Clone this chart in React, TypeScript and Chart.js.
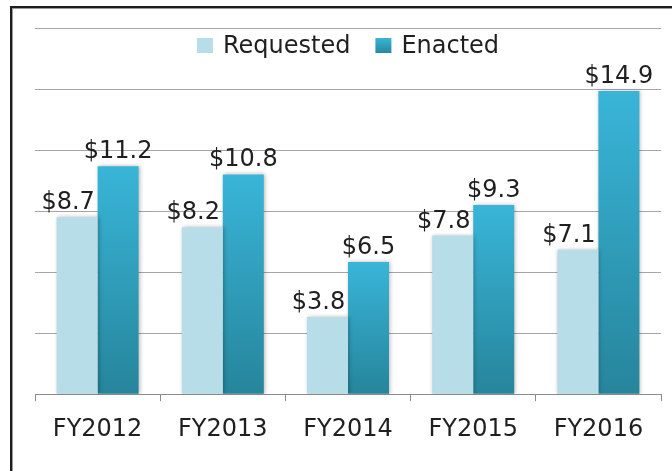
import React, { useEffect, useRef } from "react";
import { Chart, registerables } from "chart.js";

Chart.register(...registerables);

const categories = ["FY2012", "FY2013", "FY2014", "FY2015", "FY2016"];
const requested = [8.7, 8.2, 3.8, 7.8, 7.1];
const enacted = [11.2, 10.8, 6.5, 9.3, 14.9];
const seriesNames = ["Requested", "Enacted"];
const yMin = 0;
const yMax = 18;
const yStep = 3;

const FONT = "'DejaVu Sans', sans-serif";
const TEXT = "#1f1f1f";
const REQ_COLOR = "#b7dde8";
const ENA_TOP = "#39b5d8";
const ENA_BOTTOM = "#26859b";

export default function App() {
  const ref = useRef<HTMLCanvasElement | null>(null);

  useEffect(() => {
    if (!ref.current) return;

    const enactedFill = (ctx: any) => {
      const chart = ctx.chart;
      const y = chart.scales && chart.scales.y;
      if (!y || ctx.type !== "data") return ENA_TOP;
      const top = y.getPixelForValue(ctx.raw);
      const bottom = y.getPixelForValue(0);
      if (!isFinite(top) || !isFinite(bottom) || top === bottom) return ENA_TOP;
      const g = chart.ctx.createLinearGradient(0, top, 0, bottom);
      g.addColorStop(0, ENA_TOP);
      g.addColorStop(1, ENA_BOTTOM);
      return g;
    };

    const shadowPlugin = {
      id: "barShadow",
      beforeDatasetsDraw(chart: any) {
        const c = chart.ctx;
        c.save();
        c.shadowColor = "rgba(0,0,0,0.28)";
        c.shadowBlur = 4;
        c.shadowOffsetX = 1;
        c.shadowOffsetY = 0;
      },
      afterDatasetsDraw(chart: any) {
        chart.ctx.restore();
      },
    };

    const labelsPlugin = {
      id: "valueLabels",
      afterDraw(chart: any) {
        const c = chart.ctx;
        c.save();
        c.font = `24px ${FONT}`;
        c.fillStyle = TEXT;
        c.textAlign = "center";
        c.textBaseline = "alphabetic";
        chart.data.datasets.forEach((ds: any, di: number) => {
          const meta = chart.getDatasetMeta(di);
          meta.data.forEach((bar: any, i: number) => {
            const v = ds.data[i];
            const dx = di === 0 ? -9 : 0;
            c.fillText(`$${v.toFixed(1)}`, bar.x + dx, bar.y - 8);
          });
        });
        c.restore();
      },
    };

    const legendPlugin = {
      id: "innerLegend",
      afterDraw(chart: any) {
        const c = chart.ctx;
        const area = chart.chartArea;
        c.save();
        c.font = `24px ${FONT}`;
        const box = 16;
        const gap = 10;
        const itemGap = 25;
        const colors = [REQ_COLOR, ENA_TOP];
        const widths = seriesNames.map((n) => c.measureText(n).width);
        const total =
          widths.reduce((a, b) => a + b, 0) + seriesNames.length * (box + gap) + itemGap * (seriesNames.length - 1);
        let x = (area.left + area.right) / 2 - total / 2;
        const boxTop = area.top + 10;
        const baseline = area.top + 25;
        seriesNames.forEach((n, i) => {
          if (i === 1) {
            const g = c.createLinearGradient(0, boxTop, 0, boxTop + box);
            g.addColorStop(0, ENA_TOP);
            g.addColorStop(1, ENA_BOTTOM);
            c.fillStyle = g;
          } else {
            c.fillStyle = colors[i];
          }
          c.fillRect(x, boxTop, box, 15);
          x += box + gap;
          c.fillStyle = TEXT;
          c.textAlign = "left";
          c.textBaseline = "alphabetic";
          c.fillText(n, x, baseline);
          x += widths[i] + itemGap;
        });
        c.restore();
      },
    };

    const chart = new Chart(ref.current, {
      type: "bar",
      data: {
        labels: categories,
        datasets: [
          {
            label: seriesNames[0],
            data: requested,
            backgroundColor: REQ_COLOR,
            borderWidth: 0,
            categoryPercentage: 0.655,
            barPercentage: 1,
          },
          {
            label: seriesNames[1],
            data: enacted,
            backgroundColor: enactedFill,
            borderWidth: 0,
            categoryPercentage: 0.655,
            barPercentage: 1,
          },
        ],
      },
      options: {
        responsive: false,
        animation: false,
        devicePixelRatio: 1,
        layout: { padding: { left: 35, right: 11, top: 28, bottom: 13 } },
        plugins: {
          legend: { display: false },
          tooltip: { enabled: false },
          title: { display: false },
        },
        scales: {
          x: {
            grid: {
              display: true,
              drawOnChartArea: false,
              drawTicks: true,
              tickLength: 7,
              offset: true,
              color: "#8c8c8c",
              lineWidth: 1,
            },
            border: { display: true, color: "#8c8c8c", width: 1 },
            ticks: {
              color: TEXT,
              font: { family: FONT, size: 24 },
              padding: 14,
              maxRotation: 0,
            },
          },
          y: {
            min: yMin,
            max: yMax,
            ticks: { display: false, stepSize: yStep },
            grid: { color: "#a6a6a6", lineWidth: 1, drawTicks: false, tickLength: 0 },
            border: { display: false },
          },
        },
      },
      plugins: [shadowPlugin, labelsPlugin, legendPlugin],
    });

    return () => chart.destroy();
  }, []);

  return (
    <div
      style={{
        position: "fixed",
        left: 0,
        top: 0,
        width: 672,
        height: 471,
        background: "#ffffff",
        overflow: "hidden",
      }}
    >
      <div
        style={{
          position: "absolute",
          left: 10,
          top: 6,
          width: 700,
          height: 500,
          borderLeft: "2px solid #1e1e1e",
          borderTop: "2px solid #1e1e1e",
          boxShadow: "inset 1px 1px 0 #9a9a9a",
        }}
      />
      <canvas
        ref={ref}
        width={672}
        height={471}
        style={{ position: "absolute", left: 0, top: 0, width: 672, height: 471 }}
      />
    </div>
  );
}
